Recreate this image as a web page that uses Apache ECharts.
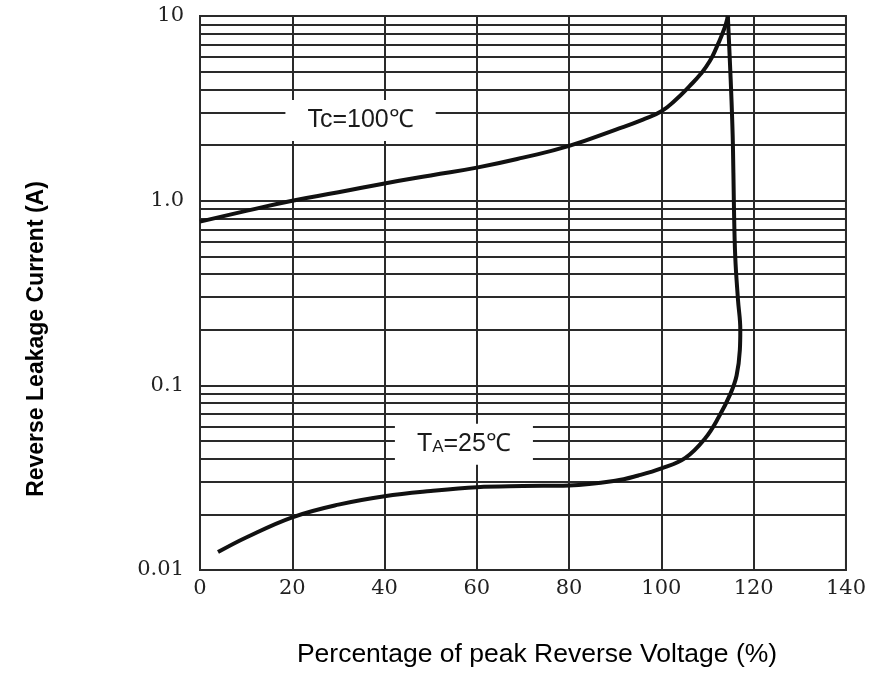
<!DOCTYPE html>
<html>
<head>
<meta charset="utf-8">
<script src="https://cdn.jsdelivr.net/npm/echarts@6/dist/echarts.min.js"></script>
<style>
html,body{margin:0;padding:0;background:#fff;}
#chart{width:869px;height:676px;}
</style>
</head>
<body>
<div id="chart"></div>
<script>
// ---- data ----
const xTicks = [0, 20, 40, 60, 80, 100, 120, 140];
const yTickLabels = ['0.01', '0.1', '1.0', '10'];
const yMinorGrid = [0.02,0.03,0.04,0.05,0.06,0.07,0.08,0.09,
                    0.2,0.3,0.4,0.5,0.6,0.7,0.8,0.9,
                    2,3,4,5,6,7,8,9];
const tc100X = [0, 10, 20, 30, 40, 50, 60, 70, 80, 90, 96, 100, 103, 106, 108.5, 110.5, 112, 113.2, 114, 114.4];
const tc100Y = [0.77, 0.88, 1.0, 1.11, 1.24, 1.37, 1.51, 1.71, 1.98, 2.42, 2.75, 3.05, 3.5, 4.15, 4.85, 5.7, 6.8, 8.0, 9.1, 10];
const ta25X = [3.9, 10, 20, 30, 40, 50, 60, 70, 80, 90, 95, 100, 105.2, 109.5, 112.4, 115, 116.3, 117.0, 117.1, 116.6, 116.0, 115.7, 115.5, 115.2, 114.8, 114.4];
const ta25Y = [0.0125, 0.015, 0.0193, 0.0226, 0.0251, 0.0268, 0.0281, 0.0285, 0.0287, 0.0304, 0.0325, 0.0355, 0.0405, 0.0517, 0.0671, 0.0905, 0.113, 0.155, 0.2, 0.29, 0.5, 1.0, 2.0, 3.47, 6.0, 10];
const curveLabels = [
  {name: 'Tc=100℃', x: 34.8, y: 2.72},
  {name: 'TA=25℃', x: 57.2, y: 0.048}
];

const zip = (xs, ys) => xs.map((x, i) => [x, ys[i]]);
const gridColor = '#2a2a2a';
const sans = '"Liberation Sans", Arial, sans-serif';

const chart = echarts.init(document.getElementById('chart'));
chart.setOption({
  backgroundColor: '#fff',
  animation: false,
  grid: {left: 200, right: 21, top: 16, bottom: 106, show: true, borderColor: gridColor, borderWidth: 2, backgroundColor: 'transparent'},
  xAxis: {
    type: 'value', min: xTicks[0], max: xTicks[xTicks.length - 1], interval: 20,
    axisLine: {show: true, lineStyle: {color: gridColor, width: 2}},
    axisTick: {show: false},
    splitLine: {show: true, lineStyle: {color: gridColor, width: 2}},
    axisLabel: {fontFamily: 'DejaVu Serif', fontSize: 21, color: '#222', margin: 8}
  },
  yAxis: {
    type: 'log', logBase: 10, min: 0.01, max: 10,
    axisLine: {show: true, lineStyle: {color: gridColor, width: 2}},
    axisTick: {show: false},
    splitLine: {show: true, lineStyle: {color: gridColor, width: 2}},
    axisLabel: {
      fontFamily: 'DejaVu Serif', fontSize: 21, color: '#222', margin: 16,
      formatter: v => yTickLabels[Math.round(Math.log10(v)) + 2]
    }
  },
  graphic: [
    {type: 'text', x: 37, y: 339, rotation: Math.PI / 2,
     style: {text: 'Reverse Leakage Current (A)', font: 'bold 23px ' + sans, fill: '#000', textAlign: 'center', textVerticalAlign: 'middle'}},
    {type: 'text', x: 537, y: 655,
     style: {text: 'Percentage of peak Reverse Voltage (%)', font: '26.5px ' + sans, fill: '#000', textAlign: 'center', textVerticalAlign: 'middle'}}
  ],
  series: [
    {
      type: 'line', data: [], silent: true,
      markLine: {
        silent: true, symbol: 'none', label: {show: false},
        lineStyle: {color: gridColor, width: 2, type: 'solid'},
        data: yMinorGrid.map(v => ({yAxis: v}))
      }
    },
    {
      name: 'Tc=100℃', type: 'line', data: zip(tc100X, tc100Y), showSymbol: false,
      smooth: 0.5,
      lineStyle: {color: '#111', width: 4}, z: 5
    },
    {
      name: 'TA=25℃', type: 'line', data: zip(ta25X, ta25Y), showSymbol: false,
      smooth: 0.4,
      lineStyle: {color: '#111', width: 4}, z: 5
    },
    {
      type: 'scatter', symbolSize: 0, z: 20, silent: true,
      itemStyle: {opacity: 1},
      data: curveLabels.map(d => ({name: d.name, value: [d.x, d.y]})),
      label: {
        show: true, position: 'inside', backgroundColor: '#fff', opacity: 1,
        fontFamily: sans, fontSize: 25, color: '#1a1a1a',
        formatter: p => p.dataIndex === 0 ? 'Tc=100℃' : 'T{s|A}=25℃',
        rich: {s: {fontSize: 17, fontFamily: sans, color: '#1a1a1a', padding: [6, 0, 0, 0]}},
        padding: [8, 22]
      }
    }
  ]
});
</script>
</body>
</html>
